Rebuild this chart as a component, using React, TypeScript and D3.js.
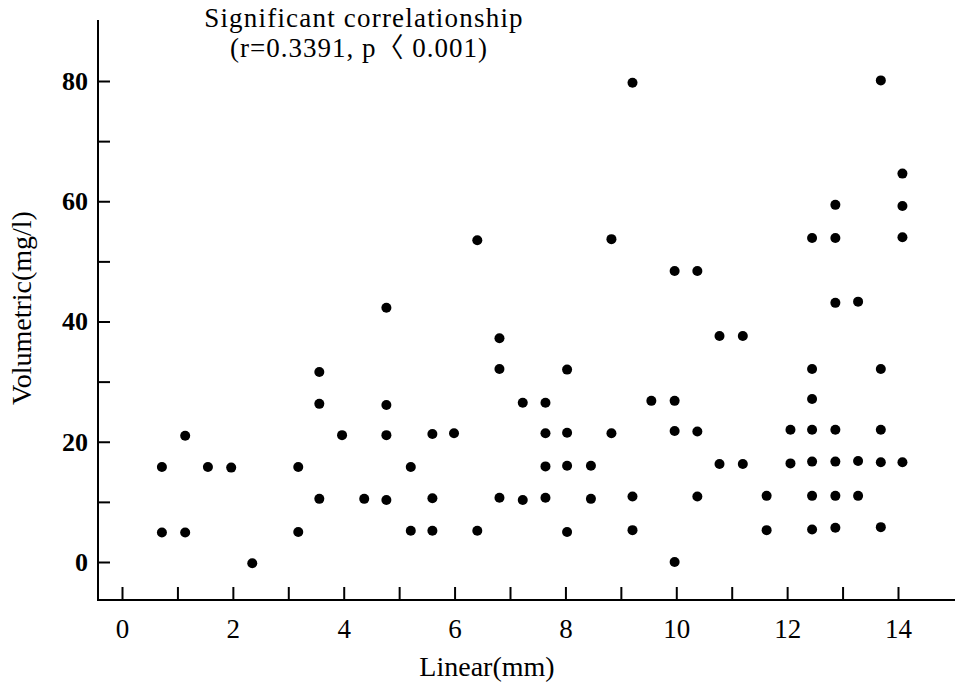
import React, { useEffect, useRef } from "react";
import * as d3 from "d3";

const xTicks = d3.range(0, 15);
const yTicks = d3.range(0, 90, 10);
const titleLines = ["Significant correlationship", "(r=0.3391,  p〈 0.001)"];
const xLabel = "Linear(mm)";
const yLabel = "Volumetric(mg/l)";

// Linear (mm) values, one per point
const linear = [
  0.72, 0.72,
  1.14, 1.14,
  1.55,
  1.97,
  2.35,
  3.18, 3.18,
  3.56, 3.56, 3.56,
  3.97,
  4.37,
  4.77, 4.77, 4.77, 4.77,
  5.21, 5.21,
  5.6, 5.6, 5.6,
  5.99,
  6.41, 6.41,
  6.81, 6.81, 6.81,
  7.23, 7.23,
  7.64, 7.64, 7.64, 7.64,
  8.03, 8.03, 8.03, 8.03,
  8.46, 8.46,
  8.83, 8.83,
  9.21, 9.21, 9.21,
  9.55,
  9.97, 9.97, 9.97, 9.97,
  10.38, 10.38, 10.38,
  10.78, 10.78,
  11.2, 11.2,
  11.63, 11.63,
  12.06, 12.06,
  12.45, 12.45, 12.45, 12.45, 12.45, 12.45, 12.45,
  12.87, 12.87, 12.87, 12.87, 12.87, 12.87, 12.87,
  13.28, 13.28, 13.28,
  13.69, 13.69, 13.69, 13.69, 13.69,
  14.08, 14.08, 14.08, 14.08,
];

// Volumetric (mg/l) values, same order
const volumetric = [
  15.8, 4.9,
  21.0, 4.9,
  15.8,
  15.7,
  -0.2,
  15.8, 5.0,
  31.6, 26.3, 10.5,
  21.1,
  10.5,
  42.3, 26.1, 21.1, 10.3,
  15.8, 5.2,
  21.3, 10.6, 5.2,
  21.4,
  53.5, 5.2,
  37.2, 32.1, 10.7,
  26.5, 10.3,
  26.5, 21.4, 15.9, 10.7,
  32.0, 21.5, 16.0, 5.0,
  16.0, 10.5,
  53.7, 21.4,
  79.7, 10.9, 5.3,
  26.8,
  48.4, 26.8, 21.8, 0.0,
  48.4, 21.7, 10.9,
  37.6, 16.3,
  37.6, 16.3,
  11.0, 5.3,
  22.0, 16.4,
  53.9, 32.1, 27.1, 22.0, 16.7, 11.0, 5.4,
  59.4, 53.9, 43.1, 22.0, 16.7, 11.0, 5.7,
  43.3, 16.8, 11.0,
  80.1, 32.1, 22.0, 16.6, 5.8,
  64.6, 59.2, 54.0, 16.6,
];

const W = 957;
const H = 685;
const FONT = "'Liberation Serif', 'DejaVu Serif', 'Noto Sans CJK JP', serif";

export default function App() {
  const ref = useRef<SVGSVGElement | null>(null);

  useEffect(() => {
    const svg = d3.select(ref.current);
    svg.selectAll("*").remove();

    const x = d3.scaleLinear().domain([0, 14]).range([122, 898]);
    const y = d3.scaleLinear().domain([0, 80]).range([562, 81]);

    const axisX = 98;
    const axisY = 600;

    // axis lines
    svg.append("line")
      .attr("x1", axisX).attr("x2", axisX)
      .attr("y1", 20).attr("y2", axisY + 1)
      .attr("stroke", "#000").attr("stroke-width", 2);
    svg.append("line")
      .attr("x1", axisX - 1).attr("x2", 955)
      .attr("y1", axisY).attr("y2", axisY)
      .attr("stroke", "#000").attr("stroke-width", 2);

    // x axis
    const gx = svg.append("g").attr("transform", `translate(0,${axisY})`);
    gx.call(
      d3.axisBottom(x)
        .tickValues(xTicks)
        .tickSizeInner(-13)
        .tickSizeOuter(0)
        .tickPadding(19)
        .tickFormat((d: any) => (d % 2 === 0 ? String(d) : ""))
    );
    gx.select(".domain").remove();
    gx.selectAll(".tick line").attr("stroke", "#000").attr("stroke-width", 2);
    gx.selectAll(".tick text")
      .attr("fill", "#000")
      .style("font-family", FONT)
      .style("font-size", "27px");

    // y axis
    const gy = svg.append("g").attr("transform", `translate(${axisX},0)`);
    gy.call(
      d3.axisLeft(y)
        .tickValues(yTicks)
        .tickSizeInner(-12)
        .tickSizeOuter(0)
        .tickPadding(10)
        .tickFormat((d: any) => (d % 20 === 0 ? String(d) : ""))
    );
    gy.select(".domain").remove();
    gy.selectAll(".tick line").attr("stroke", "#000").attr("stroke-width", 2);
    gy.selectAll(".tick text")
      .attr("fill", "#000")
      .style("font-family", FONT)
      .style("font-size", "26px")
      .style("font-weight", "bold");

    // points
    const pts = linear.map((v, i) => ({ lx: v, vy: volumetric[i] }));
    svg.append("g")
      .selectAll("circle")
      .data(pts)
      .join("circle")
      .attr("cx", (d) => x(d.lx))
      .attr("cy", (d) => y(d.vy))
      .attr("r", 5)
      .attr("fill", "#000");

    // title
    svg.append("text")
      .attr("x", 364).attr("y", 27)
      .attr("text-anchor", "middle")
      .style("font-family", FONT)
      .style("font-size", "27px")
      .style("letter-spacing", "1.2px")
      .text(titleLines[0]);
    svg.append("text")
      .attr("x", 359).attr("y", 57)
      .attr("text-anchor", "middle")
      .style("font-family", FONT)
      .style("font-size", "27px")
      .style("letter-spacing", "1px")
      .text(titleLines[1]);

    // axis titles
    svg.append("text")
      .attr("x", 487).attr("y", 676)
      .attr("text-anchor", "middle")
      .style("font-family", FONT)
      .style("font-size", "28px")
      .text(xLabel);
    svg.append("text")
      .attr("transform", "translate(31,308) rotate(-90)")
      .attr("text-anchor", "middle")
      .style("font-family", FONT)
      .style("font-size", "28px")
      .text(yLabel);
  }, []);

  return (
    <svg
      ref={ref}
      width={W}
      height={H}
      style={{ position: "absolute", left: 0, top: 0, background: "#fff" }}
    />
  );
}
